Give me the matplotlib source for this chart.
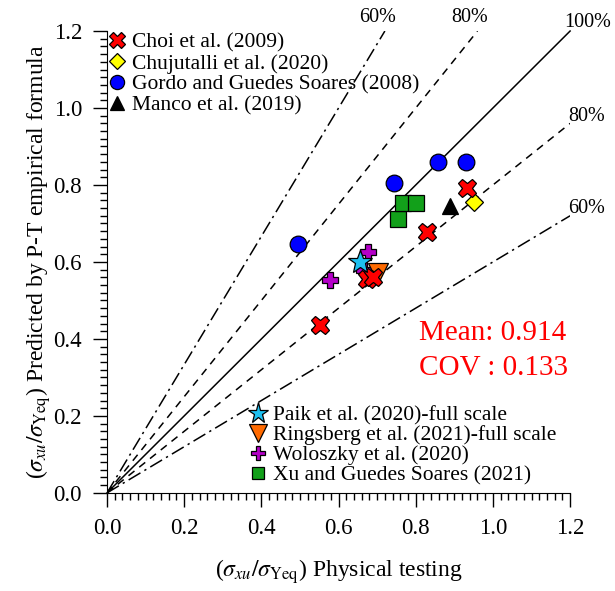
import matplotlib.pyplot as plt
import numpy as np
from matplotlib.ticker import MultipleLocator

plt.rcParams['font.family'] = ['Liberation Serif', 'DejaVu Serif']
plt.rcParams['mathtext.fontset'] = 'stix'

# Data: (physical testing, P-T formula)
choi_x = [0.552, 0.673, 0.688, 0.828, 0.932]
choi_y = [0.436, 0.555, 0.562, 0.679, 0.791]
chuj_x = [0.952]
chuj_y = [0.757]
gordo_x = [0.494, 0.744, 0.857, 0.930]
gordo_y = [0.647, 0.806, 0.859, 0.859]
manco_x = [0.889]
manco_y = [0.745]
paik_x = [0.655]
paik_y = [0.601]
rings_x = [0.703]
rings_y = [0.571]
wolo_x = [0.578, 0.665, 0.677]
wolo_y = [0.553, 0.578, 0.627]
xu_x = [0.753, 0.768, 0.800]
xu_y = [0.711, 0.754, 0.754]

mean_val = 0.914
cov_val = 0.133

fig = plt.figure(figsize=(6.15, 5.91), dpi=100)
ax = fig.add_axes([0.174, 0.166, 0.753, 0.7815])

# Reference lines from the origin
ax.plot([0, 1.2], [0, 1.2], color='black', lw=1.1, zorder=1, clip_on=False)
ax.plot([0, 1.2], [0, 0.96], color='black', lw=1.1, dashes=(5, 4), zorder=1)
ax.plot([0, 0.96], [0, 1.2], color='black', lw=1.1, dashes=(5, 4), zorder=1)
ax.plot([0, 1.2], [0, 0.72], color='black', lw=1.1, dashes=(9, 3, 1.5, 3), zorder=1)
ax.plot([0, 0.72], [0, 1.2], color='black', lw=1.1, dashes=(9, 3, 1.5, 3), zorder=1)

lbl = dict(fontsize=14.5, ha='center', va='center', clip_on=False)
ax.text(0.70, 1.234, '60%', **lbl)
ax.text(0.94, 1.234, '80%', **lbl)
ax.text(1.246, 1.223, '100%', **lbl)
ax.text(1.243, 0.979, '80%', **lbl)
ax.text(1.243, 0.740, '60%', **lbl)

# Scatter series
h_choi, = ax.plot(choi_x, choi_y, 'X', ms=13, mfc='#ff0000', mec='black', mew=0.9, ls='none', zorder=5, label='Choi et al. (2009)')
h_chuj, = ax.plot(chuj_x, chuj_y, 'D', ms=9, mfc='#ffff00', mec='black', mew=0.9, ls='none', zorder=4, label='Chujutalli et al. (2020)')
h_gordo, = ax.plot(gordo_x, gordo_y, 'o', ms=12, mfc='#0000ff', mec='black', mew=0.9, ls='none', zorder=4, label='Gordo and Guedes Soares (2008)')
h_manco, = ax.plot(manco_x, manco_y, '^', ms=12, mfc='black', mec='black', mew=0.9, ls='none', zorder=4, label='Manco et al. (2019)')
h_wolo, = ax.plot(wolo_x, wolo_y, 'P', ms=12, mfc='#b400c8', mec='black', mew=0.9, ls='none', zorder=3, label='Woloszky et al. (2020)')
h_xu, = ax.plot(xu_x, xu_y, 's', ms=11, mfc='#12a01a', mec='black', mew=0.9, ls='none', zorder=4, label='Xu and Guedes Soares (2021)')
h_rings, = ax.plot(rings_x, rings_y, 'v', ms=15, mfc='#ff6a00', mec='black', mew=0.9, ls='none', zorder=4, label='Ringsberg et al. (2021)-full scale')
h_paik, = ax.plot(paik_x, paik_y, '*', ms=18, mfc='#1ec0f0', mec='black', mew=0.9, ls='none', zorder=6, label='Paik et al. (2020)-full scale')

# Statistics
ax.text(0.808, 0.416, 'Mean: %.3f' % mean_val, color='red', fontsize=21, va='center')
ax.text(0.808, 0.325, 'COV : %.3f' % cov_val, color='red', fontsize=21, va='center')

# Axes
ax.set_xlim(0, 1.2)
ax.set_ylim(0, 1.2)
ax.xaxis.set_major_locator(MultipleLocator(0.2))
ax.yaxis.set_major_locator(MultipleLocator(0.2))
ax.xaxis.set_minor_locator(MultipleLocator(0.02))
ax.yaxis.set_minor_locator(MultipleLocator(0.02))
ax.xaxis.set_major_formatter('{x:.1f}')
ax.yaxis.set_major_formatter('{x:.1f}')
ax.tick_params(which='major', direction='out', length=10, width=1, labelsize=16.5, pad=8)
ax.tick_params(which='minor', direction='out', length=5, width=1)
ax.spines['top'].set_visible(False)
ax.spines['right'].set_visible(False)

ax.set_xlabel(r'($\sigma_{xu}/\sigma_{\mathrm{Yeq}}$) Physical testing', fontsize=17, labelpad=13)
ax.set_ylabel(r'($\sigma_{xu}/\sigma_{\mathrm{Yeq}}$) Predicted by P-T empirical formula', fontsize=17, labelpad=0)

leg1 = ax.legend(handles=[h_choi, h_chuj, h_gordo, h_manco], loc='upper left',
                 bbox_to_anchor=(-0.025, 1.025), frameon=False, fontsize=15.5,
                 handlelength=0.8, handletextpad=0.3, labelspacing=0.05,
                 borderaxespad=0.2, markerscale=0.85)
ax.add_artist(leg1)
ax.legend(handles=[h_paik, h_rings, h_wolo, h_xu], loc='lower left',
          bbox_to_anchor=(0.28, -0.012), frameon=False, fontsize=15.5,
          handlelength=0.8, handletextpad=0.3, labelspacing=0.0,
          borderaxespad=0.2, markerscale=0.85)

plt.savefig('out.png', dpi=100)
